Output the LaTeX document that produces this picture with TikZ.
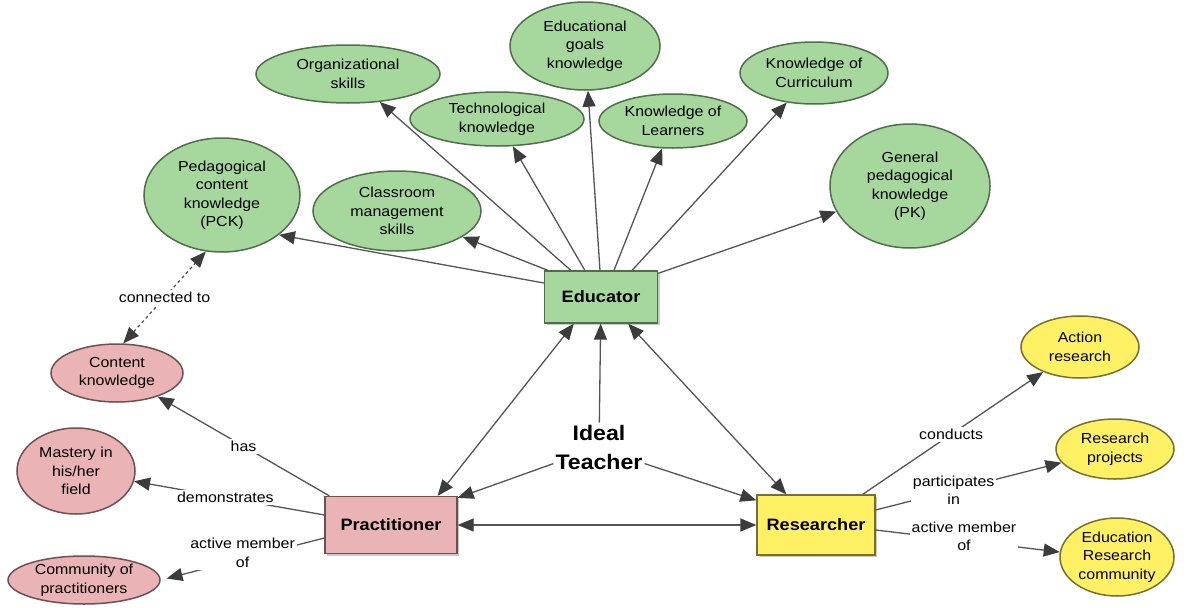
\documentclass[tikz,border=0pt]{standalone}
\usepackage{fontspec}
\setmainfont{Liberation Sans}[FakeStretch=1.1]
\usetikzlibrary{arrows.meta,shapes.geometric,shadows}
\definecolor{gfill}{RGB}{166,216,158}
\definecolor{gdraw}{RGB}{80,110,75}
\definecolor{pfill}{RGB}{234,180,182}
\definecolor{pdraw}{RGB}{110,80,80}
\definecolor{yfill}{RGB}{255,240,100}
\definecolor{ydraw}{RGB}{120,110,50}
\definecolor{lcol}{RGB}{85,85,85}
\definecolor{tipcol}{RGB}{60,60,60}
\begin{document}
\begin{tikzpicture}[x=1pt,y=-1pt,
  ell/.style={ellipse, line width=1.5pt, inner sep=-14pt, align=center, font=\fontsize{14.5}{18.5}\selectfont},
  gell/.style={ell, fill=gfill, draw=gdraw},
  pell/.style={ell, fill=pfill, draw=pdraw},
  yell/.style={ell, fill=yfill, draw=ydraw},
  boxnode/.style={rectangle, line width=1.3pt, inner sep=0pt, font=\bfseries\fontsize{16.5}{20}\selectfont,
    drop shadow={shadow xshift=2pt, shadow yshift=-2pt, fill=black!35, opacity=.6}},
  tipa/.tip={Triangle[length=16pt,width=13pt,color=tipcol]},
  conn/.style={draw=lcol, line width=1.3pt, -tipa},
  dconn/.style={draw=lcol, line width=1.3pt, tipa-tipa},
  lab/.style={fill=white, inner sep=2pt, align=center, font=\fontsize{14.5}{18.5}\selectfont}
]
\useasboundingbox (0,0) rectangle (1187,608);

% green ellipses
\node[gell, minimum width=184, minimum height=58] (org) at (348,74) {Organizational\\skills};
\node[gell, minimum width=150, minimum height=88] (goals) at (585,46) {Educational\\goals\\knowledge};
\node[gell, minimum width=174, minimum height=54] (tech) at (497,119) {Technological\\knowledge};
\node[gell, minimum width=148, minimum height=54] (learn) at (673,121) {Knowledge of\\Learners};
\node[gell, minimum width=148, minimum height=62] (curr) at (814,73) {Knowledge of\\Curriculum};
\node[gell, minimum width=160, minimum height=124] (pk) at (910,186) {General\\pedagogical\\knowledge\\(PK)};
\node[gell, minimum width=156, minimum height=114] (pck) at (222,195) {Pedagogical\\content\\knowledge\\(PCK)};
\node[gell, minimum width=168, minimum height=80] (class) at (397,211) {Classroom\\management\\skills};

% pink ellipses
\node[pell, minimum width=132, minimum height=58] (content) at (117,373) {Content\\knowledge};
\node[pell, minimum width=118, minimum height=86] (mastery) at (76,471) {Mastery in\\his/her\\field};
\node[pell, minimum width=152, minimum height=48] (comm) at (84,580) {Community of\\practitioners};

% yellow ellipses
\node[yell, minimum width=118, minimum height=62] (action) at (1080,347) {Action\\research};
\node[yell, minimum width=118, minimum height=60] (proj) at (1115,449) {Research\\projects};
\node[yell, minimum width=114, minimum height=78] (erc) at (1117,557) {Education\\Research\\community};

% boxes
\node[boxnode, fill=gfill, draw=gdraw, minimum width=113, minimum height=52] (edu) at (601,297) {Educator};
\node[boxnode, fill=pfill, draw=pdraw, minimum width=132, minimum height=57] (prac) at (391,525) {Practitioner};
\node[boxnode, fill=yfill, draw=ydraw, minimum width=118, minimum height=60] (res) at (816,525) {Researcher};

\node[align=center, inner sep=2pt, font=\bfseries\fontsize{21}{29}\selectfont] (ideal) at (599,447) {Ideal\\Teacher};

% educator edges
\draw[conn] ([yshift=14]edu.west) -- (pck.-35);
\draw[conn] ([xshift=4]edu.north west) -- (class);
\draw[conn] ([xshift=27]edu.north west) -- (org);
\draw[conn] ([xshift=41]edu.north west) -- (tech);
\draw[conn] ([xshift=-1]edu.north) -- (goals);
\draw[conn] ([xshift=13]edu.north) -- (learn);
\draw[conn] ([xshift=31]edu.north) -- (curr);
\draw[conn] ([yshift=-3]edu.north east) -- (pk);

% ideal teacher
\draw[conn] (ideal) -- (edu);
\draw[conn] (ideal.-160) -- ([yshift=-2]prac.north east);
\draw[conn] (ideal.-20) -- ([yshift=-6]res.north west);

% between roles
\draw[dconn] ([xshift=30]edu.south west) -- ([xshift=-20]prac.north east);
\draw[dconn] ([xshift=-30]edu.south east) -- ([xshift=30]res.north west);
\draw[dconn] (prac.east) -- (res.west);

% practitioner
\draw[dconn, dashed] (content.78) -- node[lab] (l1) {connected to} (pck.-106);
\draw[conn] ([xshift=5]prac.north west) -- node[lab, pos=0.5] (l2) {has} (content);
\draw[conn] ([yshift=10]prac.west) -- node[lab, pos=0.52] (l3) {demonstrates} (mastery);
\draw[conn, shorten >=6pt] ([yshift=-13]prac.west) -- node[lab, pos=0.5, yshift=6] (l4) {active member\\of} (comm.east);

% researcher
\draw[conn] ([xshift=-13]res.north east) -- node[lab, pos=0.49] (l5) {conducts} (action);
\draw[conn] ([yshift=15]res.east) -- node[lab, pos=0.42] (l6) {participates\\in} (proj);
\draw[conn] ([yshift=-5]res.east) -- node[lab, pos=0.48, yshift=4] (l7) {active member\\of} (erc.175);
\end{tikzpicture}
\end{document}
